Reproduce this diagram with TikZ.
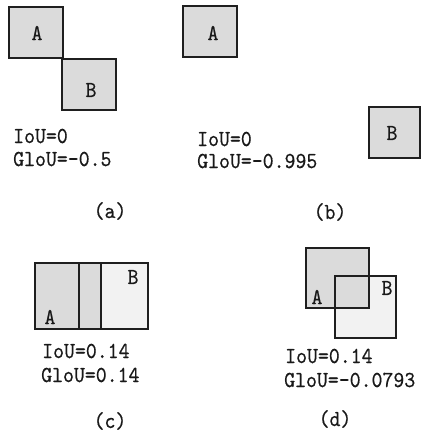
\documentclass[tikz,border=0pt]{standalone}
\usepackage{fontspec}
\usepackage{graphicx}
\setmonofont{lmmono10-regular.otf}[FakeBold=0.5]
% serif monospaced lettering used for every label
\newcommand{\tallmono}[1]{\scalebox{1}[1.1]{\ttfamily #1}}

\begin{document}
\begin{tikzpicture}[x=1pt,y=-1pt,
  frame/.style={draw=black!88, line width=1.4pt},
  darkfill/.style={fill=black!14},
  lightfill/.style={fill=black!5},
  txt/.style={inner sep=0pt, font=\fontsize{20.8}{22}\selectfont, text=black!90},
  textrow/.style={txt, anchor=base west},
  boxletter/.style={txt, anchor=center},
  sublabel/.style={txt, anchor=center}]
\useasboundingbox (0,0) rectangle (421,432);

% ---------- (a) boxes touching at a corner ----------
\draw[frame, darkfill] (9,7) rectangle (63,58);
\draw[frame, darkfill] (62,59) rectangle (116,110);
\node[boxletter] (aA) at (37,33) {\tallmono{A}};
\node[boxletter] (aB) at (91,90) {\tallmono{B}};
\node[textrow] (aIoU) at (13,143) {\tallmono{IoU=0}};
\node[textrow] (aGIoU) at (13,166) {\tallmono{GloU=-0.5}};
\node[sublabel] (aTag) at (110,211) {\tallmono{(a)}};

% ---------- (b) boxes far apart ----------
\draw[frame, darkfill] (183,6) rectangle (237,57);
\draw[frame, darkfill] (369,107) rectangle (420,158);
\node[boxletter] (bA) at (213,33) {\tallmono{A}};
\node[boxletter] (bB) at (392,133) {\tallmono{B}};
\node[textrow] (bIoU) at (197,146) {\tallmono{IoU=0}};
\node[textrow] (bGIoU) at (197,168) {\tallmono{GloU=-0.995}};
\node[sublabel] (bTag) at (330,212) {\tallmono{(b)}};

% ---------- (c) side-by-side overlap ----------
\fill[lightfill] (79,263) rectangle (148,329);
\fill[darkfill] (35,263) rectangle (101,329);
\draw[frame] (79,263) rectangle (148,329);
\draw[frame] (35,263) rectangle (101,329);
\node[boxletter] (cA) at (50,317) {\tallmono{A}};
\node[boxletter] (cB) at (133,277) {\tallmono{B}};
\node[textrow] (cIoU) at (42,358) {\tallmono{IoU=0.14}};
\node[textrow] (cGIoU) at (41,382) {\tallmono{GloU=0.14}};
\node[sublabel] (cTag) at (110,421) {\tallmono{(c)}};

% ---------- (d) diagonal overlap ----------
\fill[lightfill] (335,276) rectangle (396,338);
\fill[darkfill] (306,248) rectangle (369,308);
\draw[frame] (335,276) rectangle (396,338);
\draw[frame] (306,248) rectangle (369,308);
\node[boxletter] (dA) at (317,297) {\tallmono{A}};
\node[boxletter] (dB) at (387,288) {\tallmono{B}};
\node[textrow] (dIoU) at (285,363) {\tallmono{IoU=0.14}};
\node[textrow] (dGIoU) at (284,387) {\tallmono{GloU=-0.0793}};
\node[sublabel] (dTag) at (335,419) {\tallmono{(d)}};
\end{tikzpicture}
\end{document}
